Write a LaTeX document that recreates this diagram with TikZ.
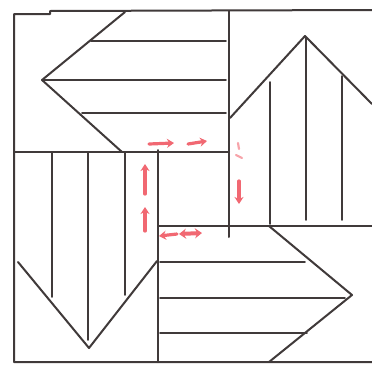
\documentclass[tikz,border=0pt]{standalone}
\usetikzlibrary{arrows.meta}

\begin{document}
\begin{tikzpicture}[
  x=1pt,y=-1pt,
  edge/.style={line width=2pt,draw=ink,line cap=round,line join=round},
  stripe/.style={line width=1.9pt,draw=ink,line cap=round},
  hint/.style={-{Stealth[length=7pt,width=9pt]},line width=3.2pt,draw=pen,
    line cap=round},
  smudge/.style={line width=2.2pt,draw=pen!60,line cap=round}
]

\definecolor{ink}{RGB}{64,58,58}
\definecolor{pen}{RGB}{241,104,114}

\useasboundingbox[fill=white] (0,0) rectangle (372,370);

% outer frame (open on the right)
\draw[edge] (372,10) -- (50,11) -- (50,14) -- (14,14) -- (14,362) -- (372,362);

% dividing lines of the pinwheel
\draw[edge] (229,11) -- (229,237);
\draw[edge] (14,152) -- (229,152);
\draw[edge] (158,150) -- (158,362);
\draw[edge] (158,226) -- (372,226);

% top left: arrow pointing left
\draw[edge] (125,12) -- (42,80) -- (122,152);
\draw[stripe] (91,41) -- (226,41);
\draw[stripe] (44,80) -- (226,80);
\draw[stripe] (82,113) -- (226,113);

% top right: arrow pointing up
\draw[edge] (230,118) -- (305,36) -- (372,104);
\draw[stripe] (270,82) -- (270,224);
\draw[stripe] (306,38) -- (306,220);
\draw[stripe] (342,76) -- (342,220);

% bottom left: arrow pointing down
\draw[edge] (18,262) -- (89,348) -- (157,261);
\draw[stripe] (52,153) -- (52,297);
\draw[stripe] (88,153) -- (88,340);
\draw[stripe] (125,153) -- (125,295);

% bottom right: arrow pointing right
\draw[edge] (269,226) -- (352,295) -- (269,362);
\draw[stripe] (160,262) -- (305,262);
\draw[stripe] (160,298) -- (345,298);
\draw[stripe] (160,333) -- (307,333);

% red marks in the centre
\draw[hint] (149,144) -- (174,143);
\draw[hint] (188,144) -- (207,141);
\draw[hint] (145,194) -- (145,164);
\draw[hint] (145,231) -- (145,207);
\draw[hint] (239,181) -- (239,204);
\draw[hint] (177,234) -- (159,236);
\draw[{Stealth[length=7pt,width=10pt]}-{Stealth[length=7pt,width=10pt]},
  line width=4pt,draw=pen] (179,234) -- (202,233);
\draw[smudge] (238,143) -- (239,149);
\draw[smudge] (236,155) -- (242,158);
\end{tikzpicture}
\end{document}
